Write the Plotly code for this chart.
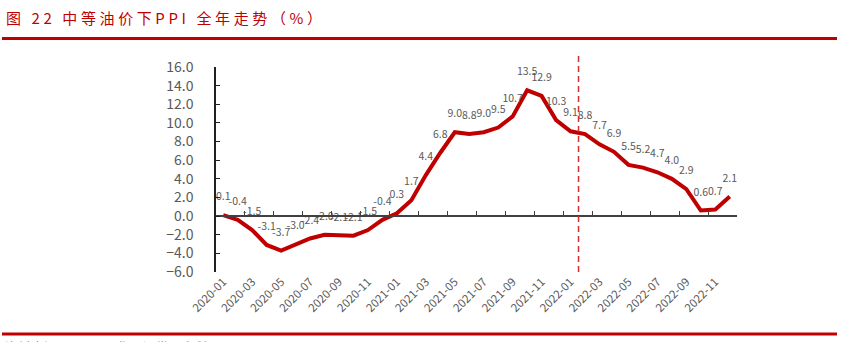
import plotly.graph_objects as go

# Monthly PPI (year-on-year, %) under the mid-range oil price scenario
months = [f"{y}-{m:02d}" for y in (2020, 2021, 2022) for m in range(1, 13)]
ppi = [0.1, -0.4, -1.5, -3.1, -3.7, -3.0, -2.4, -2.0, -2.1, -2.1, -1.5, -0.4,
       0.3, 1.7, 4.4, 6.8, 9.0, 8.8, 9.0, 9.5, 10.7, 13.5, 12.9, 10.3,
       9.1, 8.8, 7.7, 6.9, 5.5, 5.2, 4.7, 4.0, 2.9, 0.6, 0.7, 2.1]
y_range = [-6, 16]
# boundary between actual and forecast values (category index)
split_pos = 24.55

title_text = "图 22 中等油价下PPI 全年走势（%）"
source_text = "资料来源：WIND，华西证券研究所"

W, H = 855, 342
L, R, T, B = 216, 737, 67, 272
RED = "#C00000"
GREY = "#595959"
CJK = "Noto Sans CJK SC"


def px_x(px):
    return (px - L) / (R - L)


def px_y(py):
    return (B - py) / (B - T)


fig = go.Figure()

fig.add_trace(go.Scatter(
    x=months, y=ppi,
    mode="lines+markers+text",
    line=dict(color=RED, width=4),
    marker=dict(size=18, opacity=0, color=RED),
    text=[f"{v:.1f}" for v in ppi],
    textposition="top center",
    textfont=dict(family=CJK, size=10.5, color=GREY),
    hoverinfo="x+y",
    showlegend=False,
    cliponaxis=False,
))

# invisible copy that carries the axis drawn through zero
fig.add_trace(go.Scatter(
    x=months, y=ppi, xaxis="x2", yaxis="y",
    mode="lines", line=dict(width=0), opacity=0,
    hoverinfo="skip", showlegend=False,
))

fig.update_layout(
    width=W, height=H,
    margin=dict(l=L, r=W - R, t=T, b=H - B),
    paper_bgcolor="white", plot_bgcolor="white",
    font=dict(family=CJK, color=GREY),
    xaxis=dict(
        type="category", range=[-0.5, len(months) - 0.5],
        dtick=2, tickangle=-45, ticks="", showline=False,
        showgrid=False, zeroline=False,
        tickfont=dict(family=CJK, size=11.5, color=GREY),
    ),
    xaxis2=dict(
        type="category", overlaying="x", anchor="free",
        position=(0 - y_range[0]) / (y_range[1] - y_range[0]),
        range=[-0.5, len(months) - 0.5],
        dtick=2, tickson="boundaries", ticks="inside", ticklen=4,
        tickcolor="#404040", tickwidth=1.2,
        showticklabels=False, showline=True, linecolor="#404040",
        linewidth=1.5, showgrid=False, zeroline=False,
    ),
    yaxis=dict(
        range=y_range, dtick=2, tickformat=".1f",
        ticks="inside", ticklen=4, tickcolor="#202020",
        showline=True, linecolor="#202020", linewidth=1.5,
        showgrid=False, zeroline=False, ticklabelstandoff=18,
        tickfont=dict(family=CJK, size=14, color=GREY),
    ),
    shapes=[
        dict(type="line", xref="paper", yref="paper",
             x0=px_x(2), x1=px_x(837), y0=px_y(38.5), y1=px_y(38.5),
             line=dict(color=RED, width=3)),
        dict(type="line", xref="paper", yref="paper",
             x0=px_x(2), x1=px_x(837), y0=px_y(334), y1=px_y(334),
             line=dict(color=RED, width=3)),
        dict(type="line", xref="x", yref="paper",
             x0=split_pos, x1=split_pos, y0=0, y1=px_y(53),
             line=dict(color="#D03030", width=1.5, dash="6px,4px")),
    ],
    annotations=[
        dict(text=f'<span style="letter-spacing:3.6px">{title_text}</span>',
             xref="paper", yref="paper",
             x=px_x(4), y=px_y(17), xanchor="left", yanchor="middle",
             showarrow=False,
             font=dict(family=CJK, size=15, color=RED)),
        dict(text=source_text, xref="paper", yref="paper",
             x=px_x(3), y=px_y(335), xanchor="left", yanchor="top",
             showarrow=False,
             font=dict(family=CJK, size=13, color="#B07A3A")),
    ],
)

fig.write_html("out.html")
